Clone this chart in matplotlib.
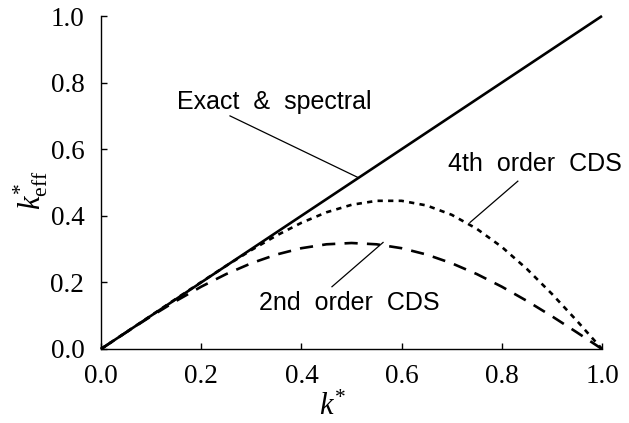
import matplotlib
matplotlib.use("Agg")
import matplotlib.pyplot as plt

# Data
k_star = [0.0, 0.05, 0.10, 0.15, 0.20, 0.25, 0.30, 0.35, 0.40, 0.45, 0.50,
          0.55, 0.60, 0.65, 0.70, 0.75, 0.80, 0.85, 0.90, 0.95, 1.0]
exact = [0.0, 1.0]
exact_k = [0.0, 1.0]
cds2 = [0.0, 0.0498, 0.0984, 0.1445, 0.1871, 0.2251, 0.2575, 0.2836, 0.3027,
        0.3144, 0.3183, 0.3144, 0.3027, 0.2836, 0.2575, 0.2251, 0.1871,
        0.1445, 0.0984, 0.0498, 0.0]
cds4 = [0.0, 0.0502, 0.1005, 0.1510, 0.2010, 0.2500, 0.2970, 0.3405, 0.3790,
        0.4105, 0.4330, 0.4450, 0.4450, 0.4310, 0.4030, 0.3610, 0.3065,
        0.2405, 0.1655, 0.0845, 0.0]
ticks = [0.0, 0.2, 0.4, 0.6, 0.8, 1.0]
tick_labels = ["0.0", "0.2", "0.4", "0.6", "0.8", "1.0"]

plt.rcParams['mathtext.fontset'] = 'custom'
plt.rcParams['mathtext.it'] = 'Liberation Serif:italic'
plt.rcParams['mathtext.rm'] = 'Liberation Serif'

fig = plt.figure(figsize=(6.29, 4.23), dpi=100)
ax = fig.add_axes([101/629, 1-349/423, 501/629, 333/423])

ax.plot(exact_k, exact, color='black', lw=1.9, solid_capstyle='butt', clip_on=False)
ax.plot(k_star, cds2, color='black', lw=1.9, dashes=(5, 3.5), clip_on=False)
ax.plot(k_star, cds4, color='black', lw=1.9, dashes=(2, 2), clip_on=False)

ax.set_xlim(0, 1)
ax.set_ylim(0, 1)
for s in ['top', 'right']:
    ax.spines[s].set_visible(False)
for s in ['left', 'bottom']:
    ax.spines[s].set_linewidth(1.0)

ax.set_xticks(ticks)
ax.set_yticks(ticks)
ax.set_xticklabels(tick_labels, family='Liberation Serif', fontsize=19.5)
ax.set_yticklabels(tick_labels, family='Liberation Serif', fontsize=19.5)
ax.tick_params(direction='in', length=4, width=1.0)
ax.tick_params(axis='x', pad=11)
ax.tick_params(axis='y', pad=12)

ax.set_xlabel(r'$k^{*}$', fontsize=22)
ax.xaxis.set_label_coords(0.463, -0.128)
ax.set_ylabel(r'$k^{*}_{\rm eff}$', fontsize=22, rotation=90)
ax.yaxis.set_label_coords(-0.101, 0.475)

tf = dict(family='Liberation Sans', fontsize=18, ha='center', va='center')
ax.text(0.345, 0.742, "Exact  &  spectral", **tf)
ax.text(0.866, 0.555, "4th  order  CDS", **tf)
ax.text(0.495, 0.139, "2nd  order  CDS", **tf)

ax.plot([0.2575, 0.513], [0.700, 0.515], color='black', lw=0.9)
ax.plot([0.832, 0.7365], [0.504, 0.380], color='black', lw=0.9)
ax.plot([0.461, 0.563], [0.187, 0.320], color='black', lw=0.9)

fig.savefig("out.png", dpi=100)
